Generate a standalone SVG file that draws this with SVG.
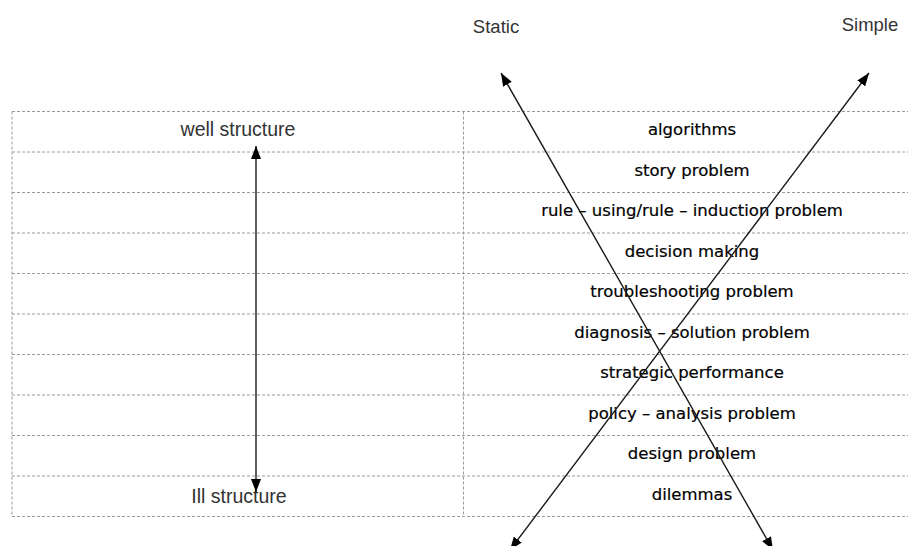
<svg xmlns="http://www.w3.org/2000/svg" width="908" height="546" viewBox="0 0 908 546">
  <style>
    .grid { stroke: #9a9a9a; stroke-width: 1; stroke-dasharray: 3 2; fill: none; }
    .lbl { font-family: "Liberation Sans", Arial, sans-serif; font-size: 18.5px; fill: #333333; text-anchor: middle; }
    .side { font-size: 19.5px; }
    .item { font-family: "DejaVu Sans", sans-serif; font-size: 16.5px; fill: #000000; stroke: #000000; stroke-width: 0.2; text-anchor: middle; }
    .conn { stroke: #1a1a1a; stroke-width: 1.4; fill: none; }
  </style>
  <defs>
    <marker id="head" viewBox="0 0 13 10" refX="13" refY="5" markerWidth="13" markerHeight="10" markerUnits="userSpaceOnUse" orient="auto-start-reverse">
      <path d="M0,0 L13,5 L0,10 Z" fill="#000000"/>
    </marker>
  </defs>

  <rect width="908" height="546" fill="#ffffff"/>

  <!-- table grid -->
  <g id="table">
    <path class="grid" d="M12,111.5 V516.5 M463.5,111.5 V516.5"/>
    <path class="grid" d="M12,111.5 H920 M12,152 H920 M12,192.5 H920 M12,233 H920 M12,273.5 H920 M12,314 H920 M12,354.5 H920 M12,395 H920 M12,435.5 H920 M12,476 H920 M12,516.5 H920"/>
  </g>

  <!-- axis labels -->
  <g id="static"><text class="lbl" x="496" y="33">Static</text></g>
  <g id="simple"><text class="lbl" x="870" y="31">Simple</text></g>
  <g id="well-structure"><text class="lbl side" x="238" y="136">well structure</text></g>
  <g id="ill-structure"><text class="lbl side" x="239" y="503">Ill structure</text></g>

  <!-- problem types -->
  <g id="algorithms"><text class="item" x="692" y="135">algorithms</text></g>
  <g id="story-problem"><text class="item" x="692" y="176">story problem</text></g>
  <g id="rule-problem"><text class="item" x="692" y="216">rule – using/rule – induction problem</text></g>
  <g id="decision-making"><text class="item" x="692" y="257">decision making</text></g>
  <g id="troubleshooting"><text class="item" x="692" y="297">troubleshooting problem</text></g>
  <g id="diagnosis"><text class="item" x="692" y="338">diagnosis – solution problem</text></g>
  <g id="strategic"><text class="item" x="692" y="378">strategic performance</text></g>
  <g id="policy"><text class="item" x="692" y="419">policy – analysis problem</text></g>
  <g id="design"><text class="item" x="692" y="459">design problem</text></g>
  <g id="dilemmas"><text class="item" x="692" y="500">dilemmas</text></g>

  <!-- connectors -->
  <g id="connectors">
    <line class="conn" x1="256" y1="146" x2="256" y2="492" marker-start="url(#head)" marker-end="url(#head)"/>
    <line class="conn" x1="501" y1="73" x2="773" y2="550" marker-start="url(#head)" marker-end="url(#head)"/>
    <line class="conn" x1="869" y1="73" x2="510" y2="550" marker-start="url(#head)" marker-end="url(#head)"/>
  </g>
</svg>
